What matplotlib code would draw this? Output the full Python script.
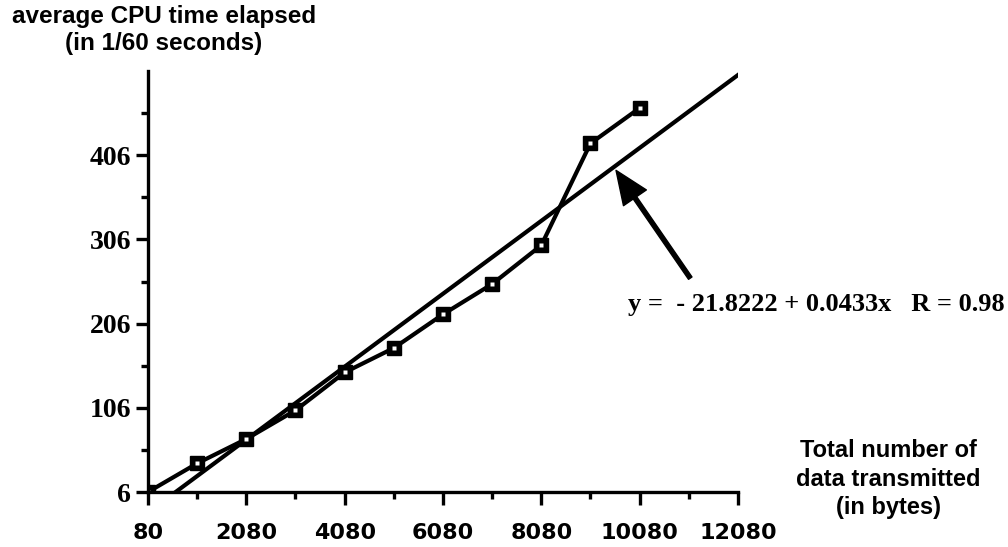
import numpy as np
import matplotlib.pyplot as plt
from matplotlib.ticker import FixedLocator

# data
bytes_sent = [80, 1080, 2080, 3080, 4080, 5080, 6080, 7080, 8080, 9080, 10080]
cpu_time = [6, 40, 69, 103, 148, 177, 217, 253, 299, 420, 462]

intercept = -21.8222
slope = 0.0433
fit_x = np.array([80, 12120])
fit_y = intercept + slope * fit_x

x_ticks = [80, 2080, 4080, 6080, 8080, 10080, 12080]
x_minor = [1080, 3080, 5080, 7080, 9080, 11080]
y_ticks = [6, 106, 206, 306, 406]
y_minor = [56, 156, 256, 356, 456]

fig = plt.figure(figsize=(10.08, 5.47), dpi=100)
ax = fig.add_axes([0.1468, 0.1005, 0.5853, 0.7697])

ax.plot(fit_x, fit_y, color='black', lw=3, solid_capstyle='round')
ax.plot(bytes_sent, cpu_time, color='black', lw=3, marker='s',
        markersize=10.5, markerfacecolor='black', markeredgecolor='black')
ax.plot(bytes_sent, cpu_time, ls='none', marker='s', markersize=2.2,
        markerfacecolor='white', markeredgecolor='none')

ax.set_xlim(80, 12080)
ax.set_ylim(6, 506)
for s in ['top', 'right']:
    ax.spines[s].set_visible(False)
for s in ['left', 'bottom']:
    ax.spines[s].set_linewidth(2.4)

ax.xaxis.set_major_locator(FixedLocator(x_ticks))
ax.xaxis.set_minor_locator(FixedLocator(x_minor))
ax.yaxis.set_major_locator(FixedLocator(y_ticks))
ax.yaxis.set_minor_locator(FixedLocator(y_minor))
ax.tick_params(which='major', direction='out', length=9, width=2.4)
ax.tick_params(which='minor', direction='out', length=5, width=2.4)
ax.tick_params(axis='x', which='major', pad=13)
ax.tick_params(axis='y', which='major', pad=3)

ax.set_xticklabels([str(v) for v in x_ticks], fontfamily='DejaVu Sans',
                   fontweight='bold', fontsize=16)
ax.set_yticklabels([str(v) for v in y_ticks], fontfamily='Liberation Serif',
                   fontweight='bold', fontsize=20)

# regression annotation
ax.annotate('', xy=(9600, 388), xytext=(11110, 260),
            arrowprops=dict(width=3, headwidth=20, headlength=24,
                            facecolor='black', edgecolor='black'),
            annotation_clip=False)
ax.text(9848, 221, 'y =  - 21.8222 + 0.0433x   R = 0.98',
        fontfamily='Liberation Serif', fontweight='bold', fontsize=19,
        ha='left', va='baseline', clip_on=False)

fig.text(164 / 1008, 1 - 30 / 547, 'average CPU time elapsed\n(in 1/60 seconds)',
         ha='center', va='center', fontfamily='Liberation Sans',
         fontweight='bold', fontsize=17.5, linespacing=1.25)
fig.text(888 / 1008, 1 - 479 / 547, 'Total number of\ndata transmitted\n(in bytes)',
         ha='center', va='center', fontfamily='Liberation Sans',
         fontweight='bold', fontsize=17, linespacing=1.3)

fig.savefig('out.png', dpi=100)
